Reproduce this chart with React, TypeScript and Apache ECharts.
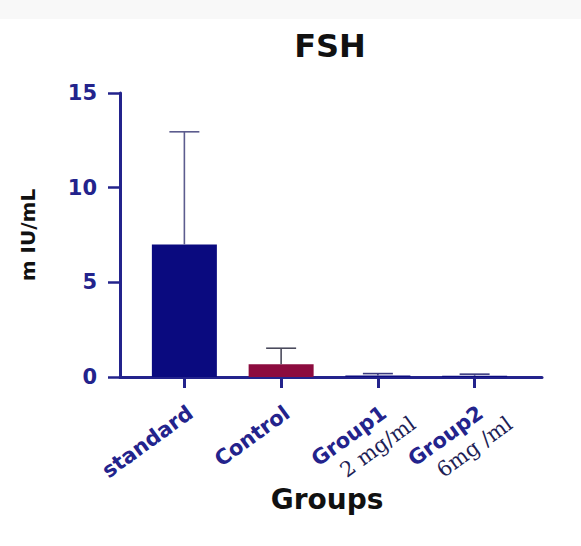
import React, { useEffect, useRef } from "react";
import * as echarts from "echarts";

const categories = ["standard", "Control", "Group1", "Group2"];
const doseLabels = ["", "", "2 mg/ml", "6mg /ml"];
const means = [7.0, 0.68, 0.08, 0.07];
const upperErrors = [12.95, 1.52, 0.18, 0.15];
const barColors = ["#0a0a7f", "#8c0b3e", "#0a0a7f", "#0a0a7f"];
const errColors = ["#5c5c8e", "#4a4a5c", "#3a3a80", "#3a3a80"];
const yTicks = { min: 0, max: 15, interval: 5 };

const NAVY = "#23238c";
const SANS = "DejaVu Sans";

export default function App() {
  const ref = useRef<HTMLDivElement>(null);
  useEffect(() => {
    if (!ref.current) return;
    const chart = echarts.init(ref.current, undefined, { renderer: "svg" });
    const option: any = {
      animation: false,
      backgroundColor: "#ffffff",
      grid: [
        { left: 136, right: 58, top: 93, bottom: 169 },
        { left: 120, right: 39, top: 93, bottom: 169 },
      ],
      xAxis: [
        {
          type: "category",
          gridIndex: 0,
          data: categories,
          position: "bottom",
          axisLine: { show: false },
          axisTick: {
            show: true,
            alignWithLabel: true,
            length: 11,
            lineStyle: { color: NAVY, width: 3 },
          },
          axisLabel: {
            rotate: 36,
            align: "right",
            verticalAlign: "top",
            margin: 25,
            fontFamily: SANS,
            fontWeight: "bold",
            fontSize: 21,
            color: NAVY,
          },
        },
        {
          type: "category",
          gridIndex: 0,
          data: categories,
          position: "bottom",
          axisLine: { show: false },
          axisTick: { show: false },
          axisLabel: {
            rotate: 36,
            align: "center",
            verticalAlign: "middle",
            margin: 70,
            fontFamily: "DejaVu Serif",
            fontSize: 21,
            color: "#1e1e55",
            formatter: (_v: string, i: number) => doseLabels[i],
          },
        },
        {
          type: "value",
          gridIndex: 1,
          min: 0,
          max: 1,
          axisLine: { show: true, lineStyle: { color: NAVY, width: 3 } },
          axisTick: { show: false },
          axisLabel: { show: false },
          splitLine: { show: false },
        },
      ],
      yAxis: [
        {
          type: "value",
          gridIndex: 0,
          min: yTicks.min,
          max: yTicks.max,
          interval: yTicks.interval,
          offset: 16,
          axisLine: { show: true, lineStyle: { color: NAVY, width: 3 } },
          axisTick: { show: true, length: 12, lineStyle: { color: NAVY, width: 2.5 } },
          axisLabel: {
            margin: 23,
            fontFamily: SANS,
            fontWeight: "bold",
            fontSize: 21,
            color: NAVY,
          },
          splitLine: { show: false },
        },
        {
          type: "value",
          gridIndex: 1,
          min: 0,
          max: 1,
          show: false,
        },
      ],
      series: [
        {
          type: "bar",
          xAxisIndex: 0,
          yAxisIndex: 0,
          barWidth: 65,
          data: means.map((v, i) => ({ value: v, itemStyle: { color: barColors[i] } })),
        },
        {
          type: "custom",
          xAxisIndex: 0,
          yAxisIndex: 0,
          encode: { x: 0, y: [1, 2] },
          data: means.map((m, i) => [i, m, upperErrors[i]]),
          z: 3,
          renderItem: (_params: any, api: any) => {
            const i = api.value(0);
            const base = api.coord([i, api.value(1)]);
            const top = api.coord([i, api.value(2)]);
            const half = 15;
            const col = errColors[i];
            return {
              type: "group",
              children: [
                {
                  type: "line",
                  shape: { x1: base[0], y1: base[1], x2: top[0], y2: top[1] },
                  style: { stroke: col, lineWidth: 1.6 },
                },
                {
                  type: "line",
                  shape: { x1: top[0] - half, y1: top[1], x2: top[0] + half, y2: top[1] },
                  style: { stroke: col, lineWidth: 1.6 },
                },
              ],
            };
          },
        },
      ],
      graphic: [
        {
          type: "rect",
          shape: { x: 0, y: 0, width: 581, height: 19 },
          style: { fill: "#f8f8f8" },
          silent: true,
        },
        {
          type: "text",
          x: 330,
          y: 46,
          style: {
            text: "FSH",
            fontFamily: SANS,
            fontWeight: "bold",
            fontSize: 32,
            fill: "#111111",
            textAlign: "center",
            textVerticalAlign: "middle",
          },
        },
        {
          type: "text",
          x: 28,
          y: 235,
          rotation: Math.PI / 2,
          style: {
            text: "m IU/mL",
            fontFamily: SANS,
            fontWeight: "bold",
            fontSize: 20,
            fill: "#111111",
            textAlign: "center",
            textVerticalAlign: "middle",
          },
        },
        {
          type: "text",
          x: 327,
          y: 499,
          style: {
            text: "Groups",
            fontFamily: SANS,
            fontWeight: "bold",
            fontSize: 28,
            fill: "#111111",
            textAlign: "center",
            textVerticalAlign: "middle",
          },
        },
      ],
    };
    chart.setOption(option);
    return () => chart.dispose();
  }, []);
  return (
    <div
      ref={ref}
      style={{ position: "absolute", left: 0, top: 0, width: 581, height: 546 }}
    />
  );
}
